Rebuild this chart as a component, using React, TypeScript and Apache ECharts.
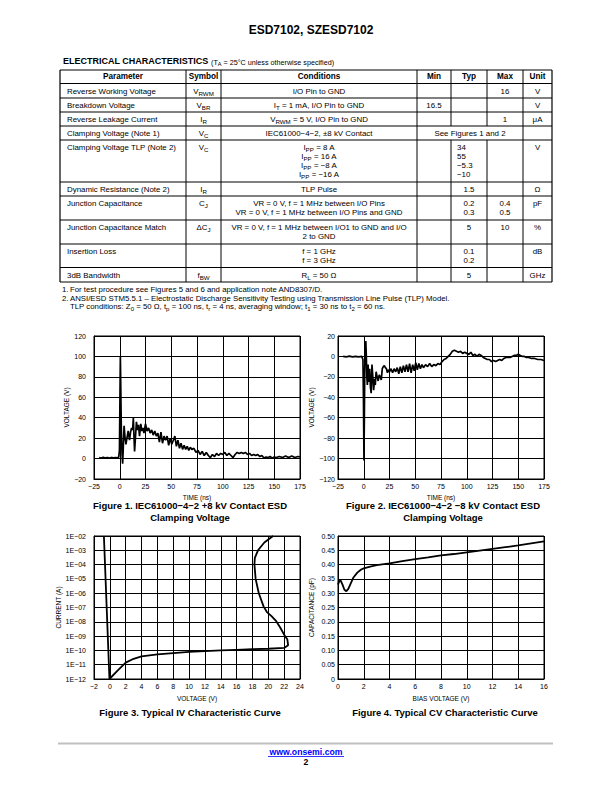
import React, { useEffect, useRef } from 'react';
import * as echarts from 'echarts';

const FONT = '"Liberation Sans", Arial, Helvetica, sans-serif';
const M = '\u2212';

// ---------- Figure 1: +8 kV contact ESD clamping voltage ----------
const fig1Time = [-20, -18, -16, -14, -12, -10, -8, -6, -4, -2, -1, -0.3, 0.2, 0.6, 1.0, 1.5, 2.2, 2.8, 3.4, 4.2, 5.0, 6.0, 7.0, 8.2, 9.5, 10.5, 11.5, 12.5, 13.2, 13.8, 14.4, 15.2, 16.2, 17.2, 18.2, 19.2, 20.4, 21.5, 22.5, 23.5, 25, 26.5, 28, 29.5, 31, 32.5, 34, 35.5, 37, 38.5, 40, 41.5, 43, 44.5, 46, 47.5, 49, 50.5, 52, 53.5, 55, 56.5, 58, 59.5, 61, 62.5, 64, 65.5, 67, 68.5, 70, 72, 74, 76, 78, 80, 82, 84, 86, 88, 90, 92, 94, 96, 98, 100, 102, 104, 106, 108, 110, 112, 114, 116, 118, 120, 122, 124, 126, 128, 130, 132, 134, 136, 138, 140, 142, 144, 146, 148, 150, 152, 155, 158, 161, 164, 167, 170, 173, 175];
const fig1Volt = [1.0, 0.5, 1.2, 0.6, 1.0, 0.4, 1.1, 0.6, 1.0, 0.8, 1.5, 8, 60, 100, 70, 30, 5, -5, 10, 32, 22, 14, 20, 27, 18, 26, 30, 28, 40, 22, 7, 20, 36, 28, 33, 22, 34, 27, 30, 25, 34, 27, 30, 25, 28, 23, 27, 22, 25, 16, 26, 15, 22, 18, 22, 13, 20, 14, 18, 22, 12, 18, 10, 15, 9, 13, 9, 12, 8, 11, 9, 10, 6, 8, 4, 7, 3, 6, 3, 1, 4, 2, 5, 3, 5, 4, 6, 3, 5, 3, 1, 4, 6, 5, 6, 5, 6, 4, 5, 3, 4, 3, 4, 2, 3, 0.5, 1.5, 1, 2, 0.5, 1.5, 1, 2, 1, 2.5, 1, 2.5, 1, 2, 1.5];

// ---------- Figure 2: -8 kV contact ESD clamping voltage ----------
const fig2Time = [-20, -17, -14, -11, -8, -5, -2, -0.8, -0.3, 0.2, 0.6, 1.0, 1.5, 2.0, 2.5, 3.0, 3.5, 4.2, 5.0, 5.8, 6.5, 7.2, 8.0, 8.8, 9.6, 10.5, 11.2, 12, 13, 14, 15, 16, 17, 18, 19, 20, 21, 22, 23, 24, 25, 26.5, 28, 29.5, 31, 32.5, 34, 35.5, 37, 38.5, 40, 41.5, 43, 44.5, 46, 47.5, 49, 50.5, 52, 53.5, 55, 56.5, 58, 60, 62, 64, 66, 68, 70, 72, 74, 76, 78, 80, 82, 84, 86, 88, 90, 92, 94, 96, 98, 100, 102, 104, 106, 108, 110, 112, 114, 116, 118, 120, 122, 124, 126, 128, 130, 132, 134, 136, 138, 140, 142, 144, 146, 148, 150, 152, 154, 156, 158, 160, 163, 166, 169, 172, 175];
const fig2Volt = [0, -0.5, 0.3, -0.5, 0, -0.5, 0, -3, -40, -102, -60, -10, 5, 15, 0, -20, -28, -8, -25, -12, -30, -36, -8, -20, -33, -22, -28, -15, -20, -24, -18, -20, -23, -12, -10, -9, -11, -12, -16, -13, -15, -12, -16, -12, -15, -11, -17, -10, -16, -9, -15, -8, -15, -7, -16, -8, -14, -6, -13, -7, -12, -8, -11, -8, -10, -7, -10, -8, -9, -7, -8, -5, -3, -2, 0, 2, 5, 6, 5, 4, 5, 3, 4, 3, 2, 4, 1, 2, 0, 2, 1, -1, -2, -3, -3, -5, -4, -5, -4, -3, -4, -2, -1, -1, -1, 0, 1, 1, 2, 1, 0, 0, -1, -1, -2, -2, -3, -3, -4];

// ---------- Figure 3: typical IV curve ----------
const fig3Voltage = [-0.75, -0.4, -0.05, 0.0, 1.0, 2.0, 3.0, 4.0, 6.0, 8.0, 10.0, 12.0, 14.0, 16.0, 18.0, 20.0, 22.0, 22.5, 22.4, 22.1, 21.5, 21.0, 20.4, 19.8, 19.4, 18.8, 18.4, 18.25, 18.3, 18.7, 19.5, 20.6];
const fig3Current = [1e-2, 1e-7, 1e-12, 1e-12, 4e-12, 1.4e-11, 2.6e-11, 3.8e-11, 5.3e-11, 6.5e-11, 8e-11, 9e-11, 1e-10, 1.1e-10, 1.2e-10, 1.3e-10, 1.5e-10, 2.3e-10, 6e-10, 1e-9, 4e-9, 1.1e-8, 2.5e-8, 5e-8, 1.2e-7, 1e-6, 1e-5, 1e-4, 3e-4, 1e-3, 3.5e-3, 1e-2];

// ---------- Figure 4: typical CV curve ----------
const fig4Bias = [0, 0.1, 0.2, 0.35, 0.5, 0.65, 0.8, 1.0, 1.2, 1.5, 1.8, 2.0, 2.5, 3, 4, 5, 6, 7, 8, 9, 10, 11, 12, 13, 14, 15, 16];
const fig4Cap = [0.33, 0.342, 0.345, 0.33, 0.312, 0.307, 0.315, 0.335, 0.355, 0.372, 0.383, 0.387, 0.393, 0.398, 0.404, 0.412, 0.419, 0.425, 0.432, 0.437, 0.443, 0.449, 0.455, 0.461, 0.467, 0.474, 0.481];

// ---------- Table ----------
const headers = ['Parameter', 'Symbol', 'Conditions', 'Min', 'Typ', 'Max', 'Unit'];
const params = ['Reverse Working Voltage', 'Breakdown Voltage', 'Reverse Leakage Current', 'Clamping Voltage (Note 1)', 'Clamping Voltage TLP (Note 2)', 'Dynamic Resistance (Note 2)', 'Junction Capacitance', 'Junction Capacitance Match', 'Insertion Loss', '3dB Bandwidth'];
const symbols = ['V{s|RWM}', 'V{s|BR}', 'I{s|R}', 'V{s|C}', 'V{s|C}', 'I{s|R}', 'C{s|J}', '\u0394C{s|J}', '', 'f{s|BW}'];
const conditions = [
  ['I/O Pin to GND'],
  ['I{s|T} = 1 mA, I/O Pin to GND'],
  ['V{s|RWM} = 5 V, I/O Pin to GND'],
  ['IEC61000\u22124\u22122, \u00b18 kV Contact'],
  ['I{s|PP} = 8 A', 'I{s|PP} = 16 A', 'I{s|PP} = \u22128 A', 'I{s|PP} = \u221216 A'],
  ['TLP Pulse'],
  ['VR = 0 V, f = 1 MHz between I/O Pins', 'VR = 0 V, f = 1 MHz between I/O Pins and GND'],
  ['VR = 0 V, f = 1 MHz between I/O1 to GND and I/O', '2 to GND'],
  ['f = 1 GHz', 'f = 3 GHz'],
  ['R{s|L} = 50 \u03a9'],
];
const minVals = [[], ['16.5'], [], [], [], [], [], [], [], []];
const typVals = [[], [], [], [], ['34', '55', '\u22125.3', '\u221210'], ['1.5'], ['0.2', '0.3'], ['5'], ['0.1', '0.2'], ['5']];
const maxVals = [['16'], [], ['1'], [], [], [], ['0.4', '0.5'], ['10'], [], []];
const units = ['V', 'V', '\u03bcA', '', 'V', '\u03a9', 'pF', '%', 'dB', 'GHz'];
const mergedNote = 'See Figures 1 and 2';
const notes = [
  ['1.', 'For test procedure see Figures 5 and 6 and application note AND8307/D.'],
  ['2.', 'ANSI/ESD STM5.5.1 \u2013 Electrostatic Discharge Sensitivity Testing using Transmission Line Pulse (TLP) Model.'],
  ['', 'TLP conditions: Z{s|0} = 50 \u03a9, t{s|p} = 100 ns, t{s|r} = 4 ns, averaging window; t{s|1} = 30 ns to t{s|2} = 60 ns.'],
];
const captions = [
  ['Figure 1. IEC61000\u22124\u22122 +8 kV Contact ESD', 'Clamping Voltage'],
  ['Figure 2. IEC61000\u22124\u22122 \u22128 kV Contact ESD', 'Clamping Voltage'],
  ['Figure 3. Typical IV Characteristic Curve'],
  ['Figure 4. Typical CV Characteristic Curve'],
];

// layout (positions only)
const colX = [60, 186, 221, 417, 451, 487, 523, 552];
const tableTop = 70;
const rowTops = [83.5, 98, 112, 126, 140, 182, 196, 220, 244, 267.5];
const tableBottom = 282;
const grids = [
  { left: 94, top: 336, width: 206, height: 143 },
  { left: 338, top: 336, width: 206, height: 143 },
  { left: 94, top: 536, width: 206, height: 143 },
  { left: 338, top: 536, width: 206, height: 143 },
];

function buildGraphics() {
  const els: any[] = [];
  const txt = (x: number, y: number, text: string, o: any = {}) => {
    const fs = o.fs ?? 7.9;
    const fill = o.color ?? '#000';
    const align = o.align ?? 'left';
    const style: any = {
      text, fontSize: fs, fontFamily: FONT, fontWeight: o.bold ? 'bold' : 'normal', fill,
      align, textAlign: align, verticalAlign: 'middle', textVerticalAlign: 'middle',
    };
    if (text.indexOf('{s|') >= 0) {
      style.lineHeight = fs * 1.3;
      style.rich = { s: { fontSize: fs * 0.78, fontFamily: FONT, fill, verticalAlign: 'bottom', lineHeight: fs * 0.62 } };
    }
    els.push({ type: 'text', x, y, silent: true, style });
  };
  const ln = (x1: number, y1: number, x2: number, y2: number, w = 1, c = '#000') => {
    els.push({ type: 'line', silent: true, shape: { x1, y1, x2, y2 }, style: { stroke: c, lineWidth: w } });
  };

  // Title
  txt(311, 30, 'ESD7102, SZESD7102', { fs: 12, bold: true, align: 'center' });
  txt(63, 61, 'ELECTRICAL CHARACTERISTICS', { fs: 9, bold: true });
  txt(211, 62, '(T{s|A} = 25\u00b0C unless otherwise specified)', { fs: 7.2 });

  // table lines
  ln(colX[0], tableTop, colX[7], tableTop, 1.2);
  ln(colX[0], tableBottom, colX[7], tableBottom, 1.2);
  rowTops.forEach((y) => ln(colX[0], y, colX[7], y, 1));
  colX.forEach((x, i) => {
    const w = i === 0 || i === 7 ? 1.2 : 1;
    if (i === 4 || i === 5) {
      ln(x, tableTop, x, rowTops[3], w);
      ln(x, rowTops[4], x, tableBottom, w);
    } else {
      ln(x, tableTop, x, tableBottom, w);
    }
  });

  // header
  const hy = (tableTop + rowTops[0]) / 2;
  headers.forEach((h, i) => txt((colX[i] + colX[i + 1]) / 2, hy, h, { fs: 8.2, bold: true, align: 'center' }));

  const lineGap = 9;
  params.forEach((p, r) => {
    const y0 = rowTops[r] + 7.5;
    txt(67, y0, p);
    if (symbols[r]) txt((colX[1] + colX[2]) / 2, y0, symbols[r], { align: 'center' });
    conditions[r].forEach((c, k) => txt((colX[2] + colX[3]) / 2, y0 + k * lineGap, c, { align: 'center' }));
    minVals[r].forEach((v, k) => txt((colX[3] + colX[4]) / 2, y0 + k * lineGap, v, { align: 'center' }));
    if (typVals[r].length > 2) {
      typVals[r].forEach((v, k) => txt(457, y0 + k * lineGap, v));
    } else {
      typVals[r].forEach((v, k) => txt((colX[4] + colX[5]) / 2, y0 + k * lineGap, v, { align: 'center' }));
    }
    maxVals[r].forEach((v, k) => txt((colX[5] + colX[6]) / 2, y0 + k * lineGap, v, { align: 'center' }));
    if (units[r]) txt((colX[6] + colX[7]) / 2, y0, units[r], { align: 'center' });
    if (r === 3) txt((colX[3] + colX[6]) / 2, y0, mergedNote, { align: 'center' });
  });

  // notes
  const noteY = [289, 298, 306.5];
  notes.forEach((n, i) => {
    if (n[0]) txt(62, noteY[i], n[0], { fs: 7.8 });
    txt(70, noteY[i], n[1], { fs: 7.8 });
  });

  // captions
  const capX = [190, 443, 190, 445];
  const capY = [505, 505, 712, 712];
  captions.forEach((c, i) => c.forEach((line, k) => txt(capX[i], capY[i] + k * 12, line, { fs: 9.5, bold: true, align: 'center' })));

  // footer
  ln(58, 743.5, 553, 743.5, 2, '#c0c0c0');
  txt(306, 751.5, 'www.onsemi.com', { fs: 8.7, bold: true, align: 'center', color: '#0000ff' });
  ln(268, 756.5, 344, 756.5, 0.8, '#0000ff');
  txt(306, 762, '2', { fs: 8.7, bold: true, align: 'center' });
  return els;
}

const fmtNum = (v: number) => String(v).replace('-', M);
const fmtLog = (v: number) => {
  const e = Math.round(Math.log10(v));
  return '1E' + (e < 0 ? M : '+') + String(Math.abs(e)).padStart(2, '0');
};
const fmtCap = (v: number) => (Math.abs(v) < 1e-9 ? '0' : v.toFixed(2));

const labelStyle = { color: '#000', fontSize: 7, fontFamily: FONT };
const nameStyle = { color: '#000', fontSize: 6.5, fontFamily: FONT };
const split = { show: true, lineStyle: { color: '#000', width: 1 } };
const axLine = { show: true, onZero: false, lineStyle: { color: '#000', width: 1 } };

function xAx(gridIndex: number, min: number, max: number, interval: number, name: string, nameGap: number, fmt: any) {
  return {
    type: 'value', gridIndex, min, max, interval, name, nameLocation: 'middle', nameGap,
    nameTextStyle: nameStyle, axisLine: axLine, axisTick: { show: false }, splitLine: split,
    axisLabel: { ...labelStyle, margin: 4, formatter: fmt },
  };
}
function yAx(gridIndex: number, min: number, max: number, interval: number, name: string, nameGap: number, margin: number, fmt: any, log = false) {
  return {
    type: log ? 'log' : 'value', logBase: 10, gridIndex, min, max, interval, name, nameLocation: 'middle', nameGap,
    nameTextStyle: nameStyle, axisLine: axLine, axisTick: { show: false }, splitLine: split,
    axisLabel: { ...labelStyle, margin, formatter: fmt },
  };
}

const zip = (a: number[], b: number[]) => a.map((v, i) => [v, b[i]]);

export default function App() {
  const ref = useRef<HTMLDivElement>(null);
  useEffect(() => {
    if (!ref.current) return;
    const chart = echarts.init(ref.current, undefined, { renderer: 'svg' });
    const lineSeries = (i: number, data: number[][], w: number) => ({
      type: 'line', xAxisIndex: i, yAxisIndex: i, data, showSymbol: false, symbol: 'none',
      lineStyle: { color: '#000', width: w }, silent: true,
    });
    chart.setOption({
      animation: false,
      backgroundColor: '#fff',
      textStyle: { fontFamily: FONT },
      grid: grids.map((g) => ({ ...g, show: true, borderColor: '#000', borderWidth: 1, backgroundColor: 'transparent' })),
      xAxis: [
        xAx(0, -25, 175, 25, 'TIME (ns)', 14.5, fmtNum),
        xAx(1, -25, 175, 25, 'TIME (ns)', 14.5, fmtNum),
        xAx(2, -2, 24, 2, 'VOLTAGE (V)', 15.5, fmtNum),
        xAx(3, 0, 16, 2, 'BIAS VOLTAGE (V)', 15.5, fmtNum),
      ],
      yAxis: [
        yAx(0, -20, 120, 20, 'VOLTAGE (V)', 21, 8, fmtNum),
        yAx(1, -120, 20, 20, 'VOLTAGE (V)', 20, 3, fmtNum),
        yAx(2, 1e-12, 1e-2, 1, 'CURRENT (A)', 28, 8, fmtLog, true),
        yAx(3, 0, 0.5, 0.05, 'CAPACITANCE (pF)', 23, 3, fmtCap),
      ],
      series: [
        lineSeries(0, zip(fig1Time, fig1Volt), 1.7),
        lineSeries(1, zip(fig2Time, fig2Volt), 1.7),
        lineSeries(2, zip(fig3Voltage, fig3Current), 1.8),
        lineSeries(3, zip(fig4Bias, fig4Cap), 1.8),
      ],
      graphic: { elements: buildGraphics() },
    });
    return () => chart.dispose();
  }, []);
  return <div ref={ref} style={{ position: 'absolute', left: 0, top: 0, width: 612, height: 792, background: '#fff' }} />;
}
